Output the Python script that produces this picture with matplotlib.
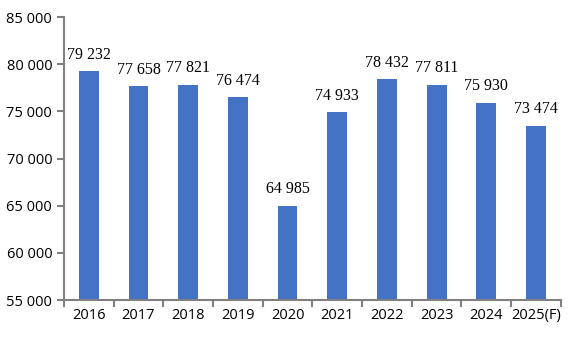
import matplotlib.pyplot as plt
import numpy as np

years = ['2016', '2017', '2018', '2019', '2020', '2021', '2022', '2023', '2024', '2025(F)']
values = [79232, 77658, 77821, 76474, 64985, 74933, 78432, 77811, 75930, 73474]

def fmt(v):
    return '{:,}'.format(int(v)).replace(',', ' ')

fig = plt.figure(figsize=(5.79, 3.41), dpi=100)
ax = fig.add_axes([0.1105, 0.12, 0.858, 0.83])

x = np.arange(len(years))
ax.bar(x, values, width=0.4, color='#4472C4', bottom=0)
for i, v in enumerate(values):
    ax.text(x[i], v + 900, fmt(v), ha='center', va='bottom',
            fontsize=11.5, family='Liberation Serif')

ax.set_ylim(55000, 85000)
ax.set_xlim(-0.5, len(years) - 0.5)
ax.set_yticks(range(55000, 85001, 5000))
ax.set_yticklabels([fmt(t) for t in range(55000, 85001, 5000)], fontsize=10.5, family='Open Sans')

ax.set_xticks(x)
ax.set_xticklabels(years, fontsize=10.5, family='Open Sans')
ax.tick_params(axis='x', length=0, pad=6)
ax.set_xticks(np.arange(-0.5, len(years)), minor=True)
ax.tick_params(axis='x', which='minor', length=5, color='#808080', width=1.5)
ax.tick_params(axis='y', length=5, color='#808080', width=1.5)

for s in ['top', 'right']:
    ax.spines[s].set_visible(False)
for s in ['left', 'bottom']:
    ax.spines[s].set_color('#808080')
    ax.spines[s].set_linewidth(1.5)

plt.savefig('out.png', dpi=100)
